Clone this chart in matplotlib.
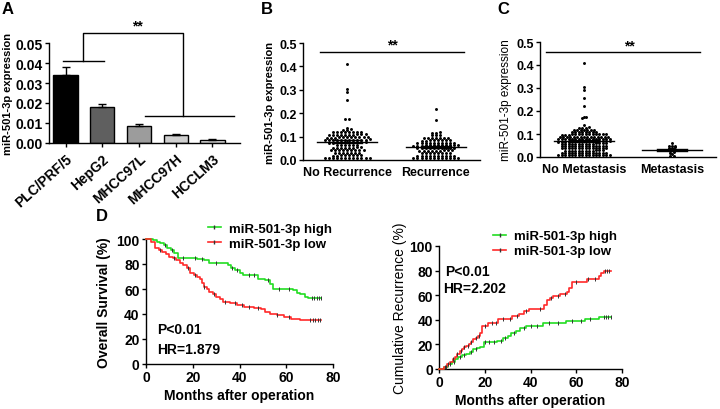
import numpy as np
import matplotlib
matplotlib.use("Agg")
import matplotlib.pyplot as plt
from matplotlib.lines import Line2D

plt.rcParams['font.family'] = ['Liberation Sans', 'DejaVu Sans']
plt.rcParams['font.weight'] = 'bold'

########################################################################################################################
# Data
########################################################################################################################

# Panel A: cell lines
cell_lines = ["PLC/PRF/5", "HepG2", "MHCC97L", "MHCC97H", "HCCLM3"]
cell_expr = [0.034, 0.018, 0.0083, 0.0040, 0.0015]
cell_sem = [0.0040, 0.0016, 0.0013, 0.0007, 0.0004]
bar_colors = ["#000000", "#5f5f5f", "#9c9c9c", "#cfcfcf", "#e9e9e9"]

# Panel B: recurrence
no_recurrence = [
    0.41, 0.305, 0.29, 0.255, 0.176, 0.174, 0.138,
    0.130, 0.131, 0.129,
    0.119, 0.120, 0.118, 0.119, 0.121, 0.118, 0.119, 0.120,
    0.108, 0.109, 0.107, 0.108, 0.108, 0.110, 0.107, 0.108, 0.109, 0.108,
    0.097, 0.098, 0.096, 0.097, 0.097, 0.099, 0.096, 0.097, 0.098, 0.097, 0.096,
    0.086, 0.087, 0.085, 0.086, 0.086, 0.088, 0.085, 0.086, 0.087, 0.086, 0.085, 0.086,
    0.075, 0.076, 0.074, 0.075, 0.075, 0.077, 0.074, 0.075, 0.076, 0.075,
    0.064, 0.065, 0.063, 0.064, 0.064, 0.065,
    0.053, 0.054, 0.052, 0.053, 0.053, 0.055, 0.052, 0.053,
    0.042, 0.043, 0.041, 0.042, 0.042, 0.044, 0.041, 0.042, 0.043,
    0.031, 0.032, 0.030, 0.031, 0.031, 0.032, 0.030,
    0.020, 0.021, 0.019, 0.020, 0.020, 0.021, 0.019, 0.020,
    0.008, 0.009, 0.007, 0.008, 0.008, 0.009, 0.007, 0.008, 0.009, 0.008, 0.007, 0.008,
]
recurrence = [
    0.218, 0.170,
    0.117, 0.118, 0.116,
    0.106, 0.107, 0.105,
    0.095, 0.096, 0.094, 0.095, 0.095, 0.096, 0.094,
    0.084, 0.085, 0.083, 0.084, 0.084, 0.085, 0.083, 0.084,
    0.073, 0.074, 0.072, 0.073, 0.073, 0.074, 0.072, 0.073, 0.074, 0.073,
    0.062, 0.063, 0.061, 0.062, 0.062, 0.063, 0.061, 0.062, 0.063, 0.062, 0.061, 0.062,
    0.051, 0.052, 0.050, 0.051, 0.051, 0.052, 0.050, 0.051, 0.052, 0.051,
    0.040, 0.041, 0.039, 0.040, 0.040, 0.041, 0.039, 0.040, 0.041,
    0.029, 0.030, 0.028, 0.029, 0.029, 0.030, 0.028, 0.029,
    0.018, 0.019, 0.017, 0.018, 0.018, 0.019, 0.017, 0.018, 0.019, 0.018,
    0.008, 0.009, 0.007, 0.008, 0.008, 0.009, 0.007, 0.008, 0.009, 0.008, 0.007, 0.008,
]

# Panel C: metastasis
no_metastasis = [
    0.41, 0.305, 0.29, 0.255, 0.22, 0.176, 0.172, 0.168, 0.138,
    0.128, 0.129, 0.127, 0.128,
    0.118, 0.119, 0.117, 0.118, 0.118, 0.119, 0.117,
    0.108, 0.109, 0.107, 0.108, 0.108, 0.109, 0.107, 0.108,
    0.098, 0.099, 0.097, 0.098, 0.098, 0.099, 0.097, 0.098, 0.099, 0.098, 0.097, 0.098, 0.099, 0.098,
    0.088, 0.089, 0.087, 0.088, 0.088, 0.089, 0.087, 0.088, 0.089, 0.088, 0.087, 0.088, 0.089, 0.088, 0.087,
    0.078, 0.079, 0.077, 0.078, 0.078, 0.079, 0.077, 0.078, 0.079, 0.078, 0.077, 0.078, 0.079, 0.078, 0.077, 0.078,
    0.068, 0.069, 0.067, 0.068, 0.068, 0.069, 0.067, 0.068, 0.069, 0.068, 0.067, 0.068, 0.069, 0.068, 0.067, 0.068,
    0.058, 0.059, 0.057, 0.058, 0.058, 0.059, 0.057, 0.058, 0.059, 0.058, 0.057, 0.058, 0.059, 0.058,
    0.048, 0.049, 0.047, 0.048, 0.048, 0.049, 0.047, 0.048, 0.049, 0.048, 0.047, 0.048, 0.049, 0.048,
    0.038, 0.039, 0.037, 0.038, 0.038, 0.039, 0.037, 0.038, 0.039, 0.038, 0.037, 0.038, 0.039, 0.038,
    0.028, 0.029, 0.027, 0.028, 0.028, 0.029, 0.027, 0.028, 0.029, 0.028, 0.027, 0.028,
    0.018, 0.019, 0.017, 0.018, 0.018, 0.019, 0.017, 0.018, 0.019, 0.018, 0.017, 0.018, 0.019, 0.018,
    0.008, 0.009, 0.007, 0.008, 0.008, 0.009, 0.007, 0.008, 0.009, 0.008, 0.007, 0.008, 0.009, 0.008, 0.007, 0.008,
]
metastasis = [0.062, 0.050, 0.048, 0.047, 0.043, 0.041, 0.040, 0.036, 0.034,
              0.030, 0.027, 0.020, 0.018, 0.012, 0.004, 0.003]

# Panel D left: overall survival (%)
os_months_high = [0, 3, 4.5, 6, 7.5, 9, 10.5, 12, 13.5, 22, 25, 27, 35, 36.5, 38, 40, 41.5, 48, 51, 53, 54.5,
                  63, 64.5, 66, 68, 69.5, 75]
os_high = [100, 99, 98, 97, 95, 93, 91, 89, 85, 84, 83, 81, 79, 77, 75, 73, 71, 68, 67, 64, 60,
           59, 57, 56, 54, 53, 53]
os_months_low = [0, 2, 4, 5.5, 7, 8.5, 10, 11.5, 13, 14.5, 16, 17.5, 19, 20.5, 22, 23, 24, 25, 26, 27,
                 28.5, 30, 31.5, 33, 36, 39, 42, 46, 49, 51, 53, 56, 59, 62, 66, 75]
os_low = [100, 98, 93, 91, 90, 88, 86, 85, 83, 81, 79, 77, 73, 71, 70, 68, 65, 62, 60, 58,
          56, 54, 52, 50, 49, 47, 46, 45, 44, 42, 40, 39, 38, 36, 35, 35]
os_cens_high = [8, 11, 16, 21, 24, 30, 37, 39, 44, 46, 52, 57, 61, 71, 72, 73, 74, 75]
os_cens_low = [6, 12, 18, 21, 25, 29, 34, 38, 41, 44, 48, 56, 61, 70, 71.5, 72.5, 73.5, 74.5]

# Panel D right: cumulative recurrence (%)
rec_months_high = [0, 2, 4, 5.5, 7, 8.5, 10, 12, 13.5, 15, 16.5, 18, 19.5, 25.5, 28, 30, 31.5, 33.5, 35.5, 38,
                   45.5, 55.5, 64, 70, 75]
rec_high = [0, 2, 4, 6, 8, 10, 11, 12, 14, 16, 17, 18, 22, 23, 25, 27, 29, 31, 33, 35,
            37, 39, 41, 42, 42]
rec_months_low = [0, 2, 3.5, 5, 6, 7, 8, 9, 10, 11, 12, 13, 14, 15, 16, 17, 18, 18.7, 21.5, 26,
                  32, 35, 37, 39.5, 46, 47, 48.5, 50, 53, 56, 57, 58, 64.5, 70, 71, 72, 75]
rec_low = [0, 2, 4, 6, 8, 10, 12, 15, 16, 18, 19, 20, 22, 24, 25, 27, 29, 35, 37, 41,
           43, 45, 47, 49, 52, 56, 58, 59, 61, 63, 66, 71, 73, 76, 78, 80, 80]
rec_cens_high = [3, 5, 6.5, 9, 11, 14, 16, 20, 22, 24, 27, 29, 33, 37, 40, 43, 48, 52, 58, 62, 66, 72, 73, 74, 75]
rec_cens_low = [2.5, 4, 6, 8, 9.5, 11, 12.5, 14, 16, 17.5, 20, 23, 25, 28, 31, 34, 38, 44, 49, 52, 55, 60, 65,
                68, 72.5, 73.5, 74.5]

GREEN = "#22dd22"
RED = "#ff2a2a"

########################################################################################################################
# Helpers
########################################################################################################################

fig = plt.figure(figsize=(7.2, 4.1), dpi=100)


def add_box(left, top, right, bottom):
    # pixel box (from top-left) -> figure fraction axes
    return fig.add_axes([left / 720, 1 - bottom / 410, (right - left) / 720, (bottom - top) / 410])


def style(ax, size):
    ax.spines["top"].set_visible(False)
    ax.spines["right"].set_visible(False)
    for s in ("left", "bottom"):
        ax.spines[s].set_linewidth(1.0)
    ax.tick_params(direction="out", length=3, width=1.0, labelsize=size, pad=1.5)
    for lab in ax.get_xticklabels() + ax.get_yticklabels():
        lab.set_fontweight("bold")


def swarm(ax, vals, center, dx, dy):
    vals = np.asarray(vals)
    order = np.argsort(vals)
    xs = np.zeros(len(vals))
    groups, cur = [], [order[0]]
    for i in order[1:]:
        if vals[i] - vals[cur[0]] <= dy:
            cur.append(i)
        else:
            groups.append(cur)
            cur = [i]
    groups.append(cur)
    for g in groups:
        n = len(g)
        offs = (np.arange(n) - (n - 1) / 2) * dx
        xs[g] = center + offs
    ax.scatter(xs, vals, s=4.5, color="black", linewidths=0, zorder=3, clip_on=False)
    m = vals.mean()
    sem = vals.std(ddof=1) / np.sqrt(len(vals))
    ax.plot([center - 0.34, center + 0.34], [m, m], color="black", lw=1.0, zorder=4)
    ax.plot([center, center], [m - sem, m + sem], color="black", lw=1.0, zorder=4)
    for v in (m - sem, m + sem):
        ax.plot([center - 0.17, center + 0.17], [v, v], color="black", lw=1.0, zorder=4)


def step_at(months, vals, t):
    idx = np.searchsorted(months, t, side="right") - 1
    return np.asarray(vals)[idx]


def km(ax, months, vals, cens, color):
    ax.step(months, vals, where="post", color=color, lw=1.2, zorder=3, clip_on=False)
    cy = step_at(months, vals, cens)
    ax.plot(cens, cy, linestyle="none", marker="|", markersize=3.5, markeredgewidth=0.7,
            color="#333333", zorder=4, clip_on=False)


########################################################################################################################
# Panel A
########################################################################################################################

axA = add_box(49, 44, 240, 144)
xa = np.arange(len(cell_lines))
axA.bar(xa, cell_expr, width=0.66, color=bar_colors, edgecolor="black", linewidth=1.0,
        yerr=[np.zeros(len(cell_sem)), cell_sem],
        error_kw=dict(capsize=3, elinewidth=1.0, capthick=1.0, ecolor="black"))
axA.set_xlim(-0.45, 4.75)
axA.set_ylim(0, 0.05)
axA.set_yticks([0, 0.01, 0.02, 0.03, 0.04, 0.05])
axA.set_yticklabels(["0.00", "0.01", "0.02", "0.03", "0.04", "0.05"])
axA.set_xticks(xa)
axA.set_xticklabels(cell_lines, rotation=42, ha="right", rotation_mode="anchor")
style(axA, 10)
axA.tick_params(axis="x", pad=3)
axA.set_ylabel("miR-501-3p expression", fontsize=8, fontweight="bold", labelpad=2)
bk = dict(color="black", lw=1.0, clip_on=False)
axA.plot([-0.07, 1.06], [0.041, 0.041], **bk)
axA.plot([0.47, 0.47, 3.2, 3.2], [0.041, 0.055, 0.055, 0.0135], **bk)
axA.plot([2.17, 4.6], [0.0135, 0.0135], **bk)
axA.text(1.95, 0.0555, "**", ha="center", va="bottom", fontsize=10, fontweight="bold")

########################################################################################################################
# Panel B
########################################################################################################################

axB = add_box(303, 44, 480, 161)
swarm(axB, no_recurrence, 0, 0.046, 0.005)
swarm(axB, recurrence, 1, 0.046, 0.005)
axB.set_xlim(-0.5, 1.5)
axB.set_ylim(0, 0.5)
axB.set_yticks(np.arange(0, 0.51, 0.1))
axB.set_yticklabels(["0.0", "0.1", "0.2", "0.3", "0.4", "0.5"])
axB.set_xticks([0, 1])
axB.set_xticklabels(["No Recurrence", "Recurrence"])
style(axB, 9)
axB.tick_params(axis="x", length=0, pad=4)
axB.set_ylabel("miR-501-3p expression", fontsize=8, fontweight="bold", labelpad=3)
axB.plot([-0.31, 1.32], [0.462, 0.462], **bk)
axB.text(0.51, 0.462, "**", ha="center", va="bottom", fontsize=10, fontweight="bold")

########################################################################################################################
# Panel C
########################################################################################################################

axC = add_box(540, 43, 716, 158)
swarm(axC, no_metastasis, 0, 0.039, 0.005)
swarm(axC, metastasis, 1, 0.039, 0.005)
axC.set_xlim(-0.5, 1.5)
axC.set_ylim(0, 0.5)
axC.set_yticks(np.arange(0, 0.51, 0.1))
axC.set_yticklabels(["0.0", "0.1", "0.2", "0.3", "0.4", "0.5"])
axC.set_xticks([0, 1])
axC.set_xticklabels(["No Metastasis", "Metastasis"])
style(axC, 9)
axC.tick_params(axis="x", length=0, pad=4)
axC.set_ylabel("miR-501-3p expression", fontsize=8.5, fontweight="normal", labelpad=3)
axC.plot([-0.43, 1.32], [0.455, 0.455], **bk)
axC.text(0.52, 0.455, "**", ha="center", va="bottom", fontsize=10, fontweight="bold")

########################################################################################################################
# Panel D left: overall survival
########################################################################################################################

axD1 = add_box(146, 240, 333, 365)
km(axD1, os_months_high, os_high, os_cens_high, GREEN)
km(axD1, os_months_low, os_low, os_cens_low, RED)
axD1.set_xlim(0, 80)
axD1.set_ylim(0, 100)
axD1.set_xticks([0, 20, 40, 60, 80])
axD1.set_yticks([0, 20, 40, 60, 80, 100])
style(axD1, 10)
axD1.set_xlabel("Months after operation", fontsize=10, fontweight="bold", labelpad=3)
axD1.set_ylabel("Overall Survival (%)", fontsize=10, fontweight="bold", labelpad=4)
axD1.text(4.7, 28, "P<0.01", fontsize=10, fontweight="bold", va="center")
axD1.text(4.7, 12, "HR=1.879", fontsize=10, fontweight="bold", va="center")

handles = [Line2D([], [], color=GREEN, lw=1.2, marker="|", markersize=3.5, markeredgecolor="#333333"),
           Line2D([], [], color=RED, lw=1.2, marker="|", markersize=3.5, markeredgecolor="#333333")]
labels = ["miR-501-3p high", "miR-501-3p low"]
axD1.legend(handles, labels, loc="upper left", bbox_to_anchor=(0.33, 1.13), frameon=False,
            handlelength=1.0, handletextpad=0.6, borderaxespad=0, borderpad=0, labelspacing=0.2,
            prop=dict(size=9.5, weight="bold"))

########################################################################################################################
# Panel D right: cumulative recurrence
########################################################################################################################

axD2 = add_box(439, 247, 622, 370)
km(axD2, rec_months_high, rec_high, rec_cens_high, GREEN)
km(axD2, rec_months_low, rec_low, rec_cens_low, RED)
axD2.set_xlim(0, 80)
axD2.set_ylim(0, 100)
axD2.set_xticks([0, 20, 40, 60, 80])
axD2.set_yticks([0, 20, 40, 60, 80, 100])
style(axD2, 10)
axD2.set_xlabel("Months after operation", fontsize=10, fontweight="bold", labelpad=3)
axD2.set_ylabel("Cumulative Recurrence (%)", fontsize=10, fontweight="normal", labelpad=2)
axD2.text(2.6, 80, "P<0.01", fontsize=10, fontweight="bold", va="center")
axD2.text(1.7, 66, "HR=2.202", fontsize=10, fontweight="bold", va="center")
axD2.legend(handles, labels, loc="upper left", bbox_to_anchor=(0.295, 1.13), frameon=False,
            handlelength=1.0, handletextpad=0.6, borderaxespad=0, borderpad=0, labelspacing=0.2,
            prop=dict(size=9.5, weight="bold"))

########################################################################################################################
# Panel letters
########################################################################################################################

for letter, px, py in [("A", 8, 10), ("B", 267, 10), ("C", 503, 10), ("D", 102, 217)]:
    fig.text(px / 720, 1 - py / 410, letter, fontsize=12, fontweight="bold", ha="center", va="center")

fig.savefig("out.png", dpi=100)
